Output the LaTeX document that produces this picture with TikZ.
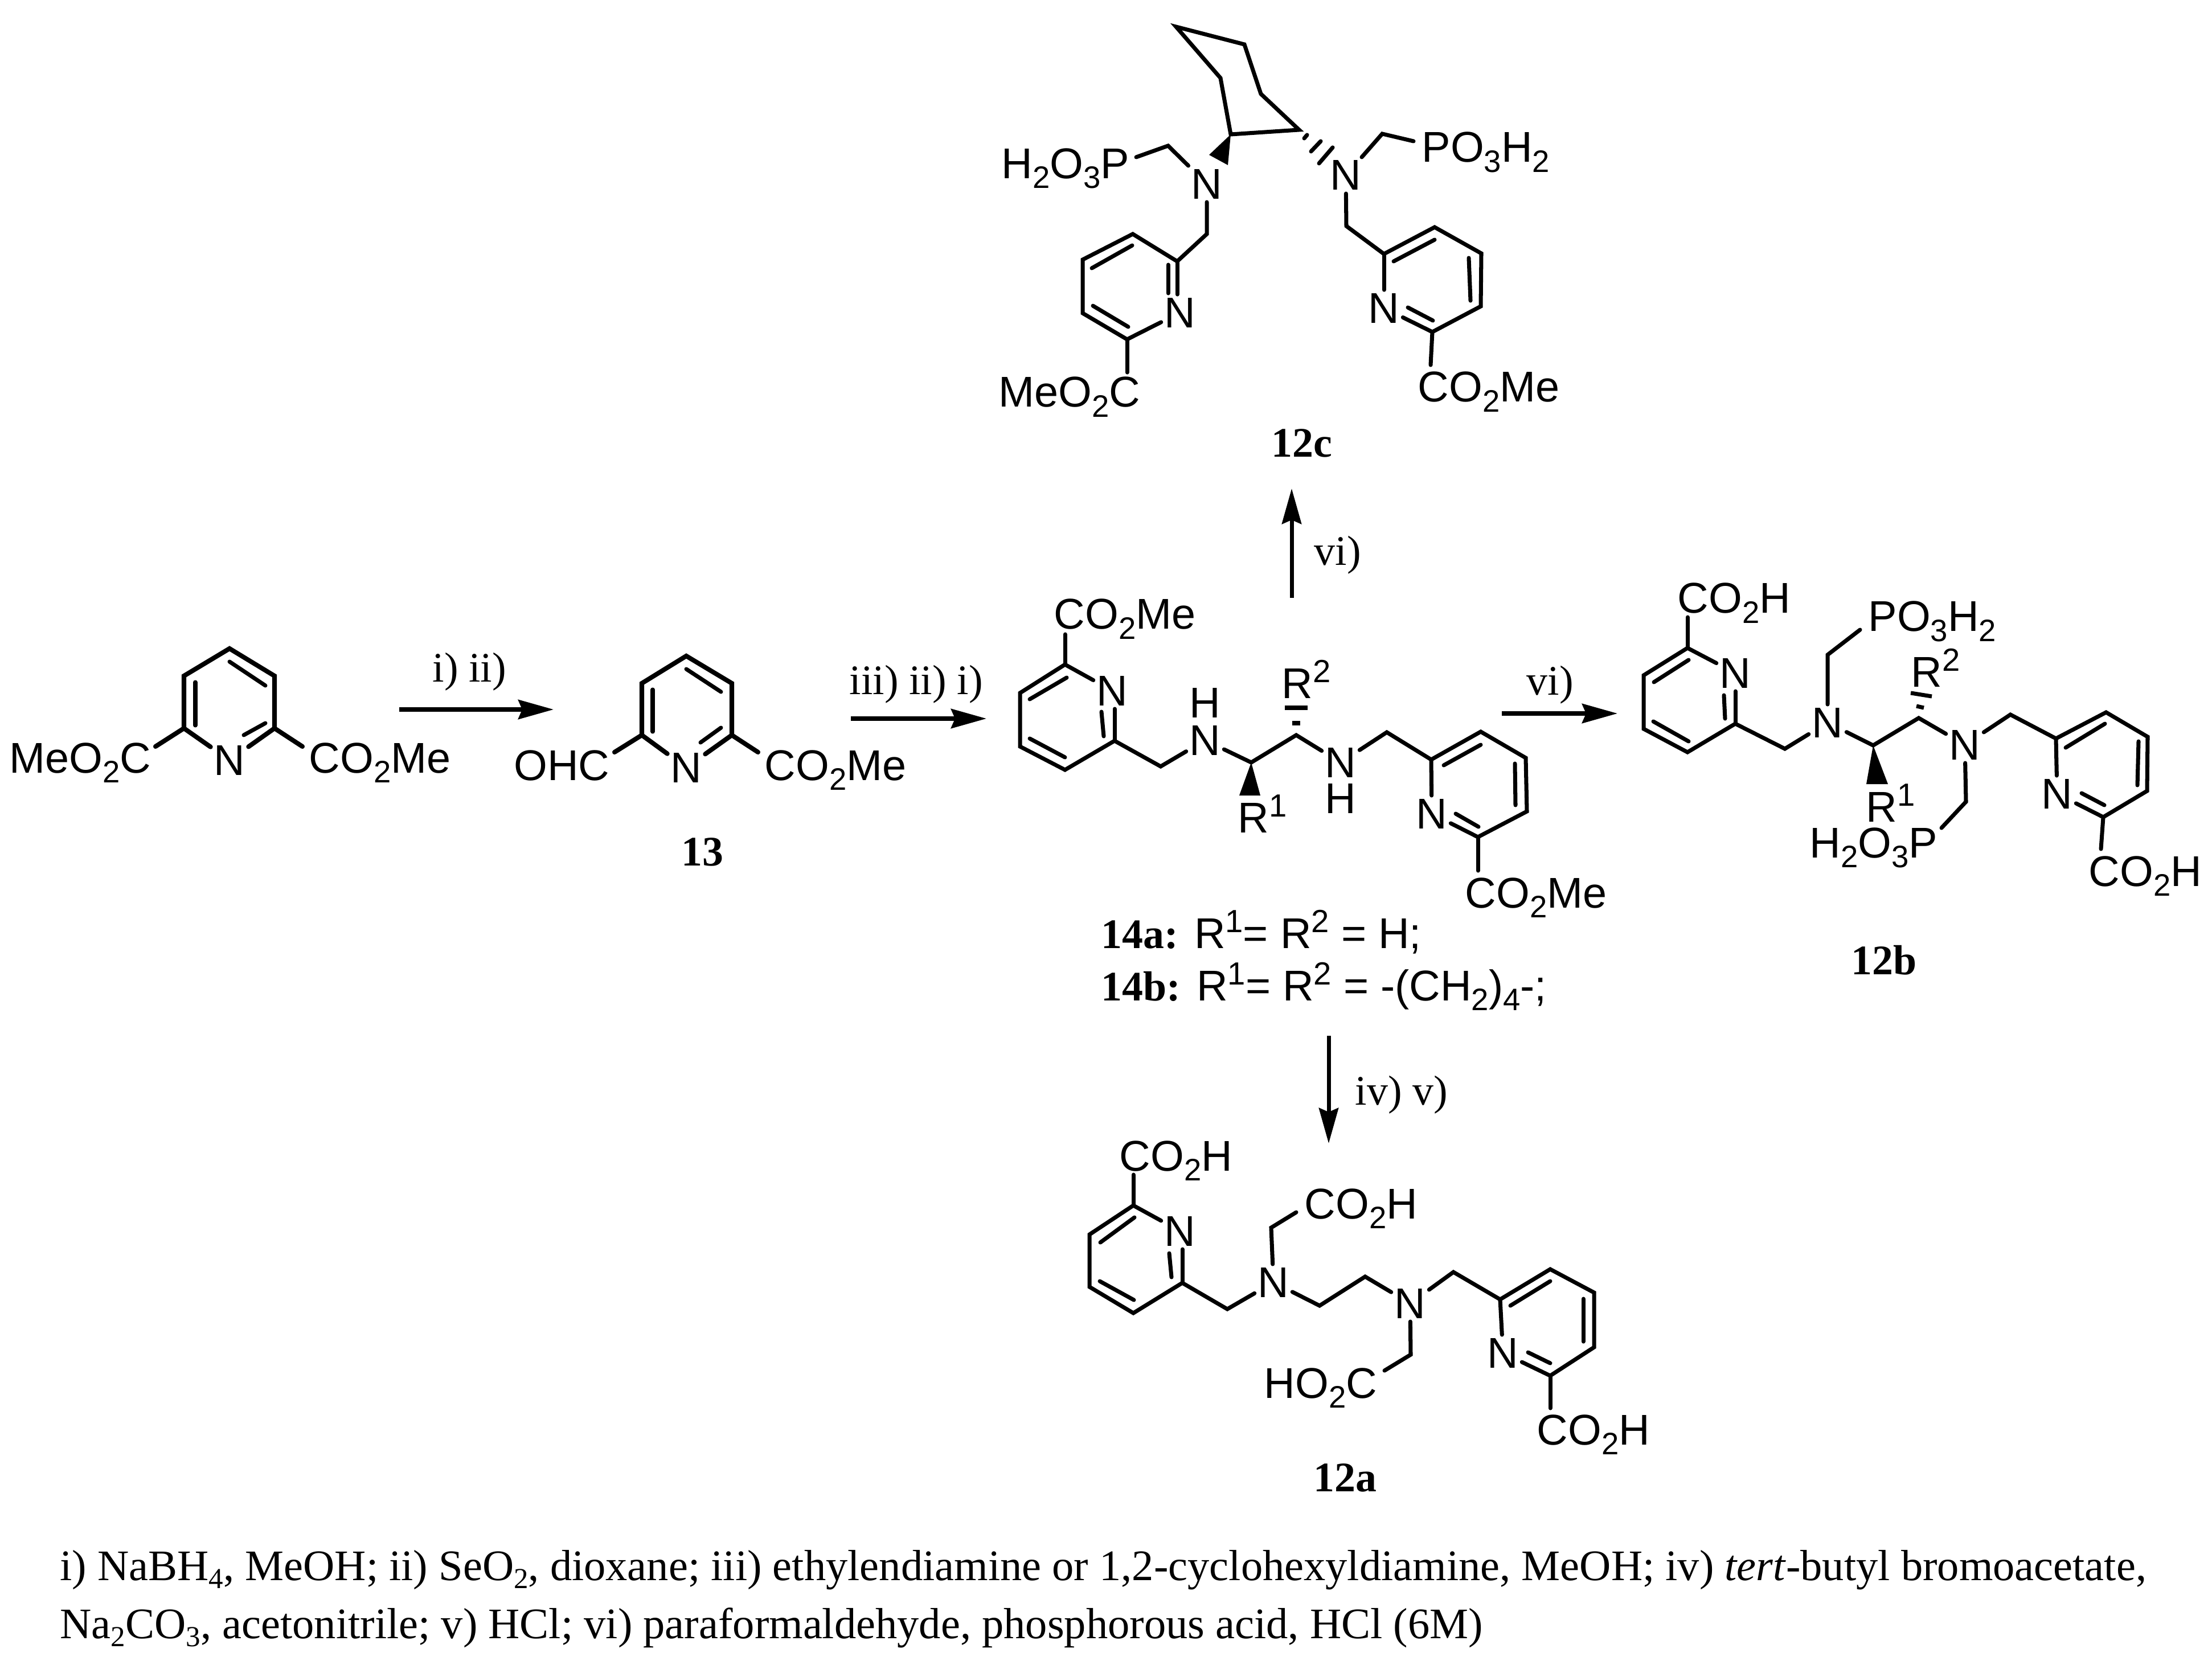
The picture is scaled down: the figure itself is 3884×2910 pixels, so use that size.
\documentclass[tikz,border=0pt]{standalone}
\usepackage{fontspec}
\setmainfont{Liberation Serif}
\newfontfamily\arialfont{Liberation Sans}
\usetikzlibrary{arrows.meta}
\newcommand{\chemfont}{\fontsize{21.5}{24}\arialfont}
\newcommand{\cpdfont}{\fontsize{21}{24}\rmfamily\bfseries}
\newcommand{\condfont}{\fontsize{21}{24}\rmfamily}
\newcommand{\notefont}{\fontsize{21.75}{24}\rmfamily}
\newcommand{\subs}[1]{\raisebox{-.17cm}{\fontsize{15.5}{15}\selectfont #1}}
\newcommand{\sups}[1]{\raisebox{.27cm}{\fontsize{16}{15}\selectfont #1}}
\newcommand{\capsub}[1]{\raisebox{-.14cm}{\fontsize{14.5}{15}\selectfont #1}}
\tikzset{
    bond/.style = {line width=2pt, line cap=round, line join=miter},
    thick bond/.style = {bond, line width=2.3pt},
    rxn/.style = {line width=2pt, -{Stealth[length=.62cm,width=.34cm,inset=.07cm]}},
    atom/.style = {inner sep=1.5pt, font=\chemfont},
    grp/.style = {inner sep=0pt, font=\chemfont},
    cpd/.style = {inner sep=0pt, font=\cpdfont, anchor=base},
    cond/.style = {inner sep=0pt, font=\condfont, anchor=base west},
    note/.style = {inner sep=0pt, font=\notefont, anchor=base west}
}

\begin{document}
\begin{tikzpicture}[x=0.01cm,y=-0.01cm]
\useasboundingbox (0,0) rectangle (3884,2910);

% 12c
\draw[bond] (2065,47) coordinate (c1) -- (2185,78) coordinate (c2) -- (2214,165) coordinate (c3) -- (2281,228) coordinate (c4) -- (2161,236) coordinate (c5) -- (2143,137) coordinate (c6) -- cycle;
\fill (c5) -- (2123,272) -- (2156,290) -- cycle;
\draw[bond] (2290,243) -- (2295,237);
\draw[bond] (2302,266) -- (2319,248);
\draw[bond] (2316,287) -- (2340,259);
\node[atom] (cNl) at (2119,323) {N};
\node[atom] (cNr) at (2363,308) {N};
\node[atom] (cNa) at (2072,549) {N};
\node[atom] (cNb) at (2430,541) {N};
\node[grp, anchor=base east] (cPl) at (1984,314) {H\subs{2}O\subs{3}P};
\node[grp, anchor=base west] (cPr) at (2496,285) {PO\subs{3}H\subs{2}};
\node[grp, anchor=base east] (cEl) at (2003,715) {MeO\subs{2}C};
\node[grp, anchor=base west] (cEr) at (2489,706) {CO\subs{2}Me};
\node[cpd] (lab12c) at (2286,803) {12c};
\coordinate (cPle) at (1995,276);
\coordinate (cPre) at (2482,248);
\draw[bond] (cPle) -- (2051,256) coordinate (cm1) -- (cNl);
\draw[bond] (cNl) -- (2119,411) coordinate (cm2) -- (2067,459) coordinate (a1) -- (1989,411) coordinate (a2) -- (1901,456) coordinate (a3) -- (1901,550) coordinate (a4) -- (1979,596) coordinate (a5) -- (cNa);
\draw[bond] (a1) -- (a1 |- cNa.north);
\draw[bond] (2051,465) -- (2051,515);
\draw[bond] (1988,431) -- (1917,471);
\draw[bond] (1919,537) -- (1981,574);
\coordinate (cEle) at (1979,654);
\draw[bond] (a5) -- (cEle);
\draw[bond] (cNr) -- (2427,235) coordinate (cm3) -- (cPre);
\draw[bond] (cNr) -- (2364,397) coordinate (cm4) -- (2430,446) coordinate (b1) -- (2519,399) coordinate (b2) -- (2601,445) coordinate (b3) -- (2600,538) coordinate (b4) -- (2515,583) coordinate (b5) -- (cNb);
\draw[bond] (b1) -- (b1 |- cNb.north);
\draw[bond] (2447,459) -- (2519,421);
\draw[bond] (2579,453) -- (2582,528);
\draw[bond] (2472,540) -- (2516,563);
\coordinate (cEre) at (2512,641);
\draw[bond] (b5) -- (cEre);

% dimethyl ester
\node[atom] (sN) at (403,1335) {N};
\node[grp, anchor=base east] (sEl) at (266,1357) {MeO\subs{2}C};
\node[grp, anchor=base west] (sEr) at (542,1357) {CO\subs{2}Me};
\draw[thick bond] (sN) -- (323,1279) coordinate (s1) -- (323,1187) coordinate (s2) -- (403,1139) coordinate (s3) -- (482,1187) coordinate (s4) -- (482,1279) coordinate (s5) -- (sN);
\draw[bond] (403,1162) -- (466,1204);
\draw[bond] (466,1270) -- (428,1291);
\draw[bond] (343,1198) -- (343,1274);
\coordinate (sEle) at (273,1311);
\coordinate (sEre) at (531,1311);
\draw[thick bond] (s1) -- (sEle);
\draw[thick bond] (s5) -- (sEre);

% 13
\node[atom] (aN) at (1205,1348) {N};
\node[grp, anchor=base east] (aCHO) at (1071,1370) {OHC};
\node[grp, anchor=base west] (aEr) at (1342,1370) {CO\subs{2}Me};
\node[cpd] (lab13) at (1233,1520) {13};
\draw[thick bond] (aN) -- (1127,1291) coordinate (d1) -- (1127,1200) coordinate (d2) -- (1205,1152) coordinate (d3) -- (1285,1200) coordinate (d4) -- (1285,1291) coordinate (d5) -- (aN);
\draw[bond] (1205,1175) -- (1266,1215);
\draw[bond] (1266,1278) -- (1230,1304);
\draw[bond] (1146,1211) -- (1146,1285);
\coordinate (aCHOe) at (1079,1321);
\coordinate (aEre) at (1331,1321);
\draw[thick bond] (d1) -- (aCHOe);
\draw[thick bond] (d5) -- (aEre);

% 14
\node[atom] (eNa) at (1953,1213) {N};
\node[atom] (eNl) at (2116,1300) {N};
\node[atom] (eHl) at (2116,1234) {H};
\node[atom] (eNr) at (2354,1339) {N};
\node[atom] (eHr) at (2354,1402) {H};
\node[atom] (eNb) at (2514,1429) {N};
\node[grp, anchor=base west] (eEt) at (1850,1105) {CO\subs{2}Me};
\node[grp, anchor=base west] (eEb) at (2572,1594) {CO\subs{2}Me};
\node[grp, anchor=base west] (eRa) at (2173,1462) {R\sups{1}};
\node[grp, anchor=base west] (eRb) at (2250,1226) {R\sups{2}};
\node[grp, anchor=base west] (lab14a) at (1933,1665) {{\cpdfont 14a:} R\sups{1}= R\sups{2} = H;};
\node[grp, anchor=base west] (lab14b) at (1933,1757) {{\cpdfont 14b:} R\sups{1}= R\sups{2} = -(CH\subs{2})\subs{4}-;};
\coordinate (eEte) at (1870,1114);
\coordinate (eEbe) at (2595,1529);
\draw[bond] (eEte) -- (1870,1167) coordinate (p1);
\draw[bond] (eNa) -- (p1) -- (1791,1217) coordinate (p2) -- (1791,1311) coordinate (p3) -- (1870,1352) coordinate (p4) -- (1957,1301) coordinate (p5) -- (2038,1346) coordinate (em1) -- (eNl);
\draw[bond] (p5) -- (p5 |- eNa.south);
\draw[bond] (1873,1190) -- (1808,1228);
\draw[bond] (1808,1297) -- (1870,1330);
\draw[bond] (1938,1293) -- (1934,1250);
\draw[bond] (eNl) -- (2197,1339) coordinate (e1) -- (2276,1291) coordinate (e2) -- (eNr);
\fill (e1) -- (2176,1397) -- (2213,1397) -- cycle;
\draw[bond, line cap=butt] (2269,1270) -- (2283,1270);
\draw[bond, line cap=butt] (2256,1243) -- (2296,1243);
\draw[bond] (eNr) -- (2435,1286) coordinate (em2) -- (2513,1334) coordinate (q1) -- (2600,1285) coordinate (q2) -- (2679,1331) coordinate (q3) -- (2681,1425) coordinate (q4) -- (2595,1470) coordinate (q5) -- (eNb);
\draw[bond] (q1) -- (eNb);
\draw[bond] (2535,1344) -- (2600,1308);
\draw[bond] (2660,1341) -- (2661,1414);
\draw[bond] (2556,1429) -- (2596,1452);
\draw[bond] (q5) -- (eEbe);

% 12b
\node[atom] (fNa) at (3047,1182) {N};
\node[atom] (fNl) at (3209,1269) {N};
\node[atom] (fNr) at (3450,1308) {N};
\node[atom] (fNb) at (3612,1394) {N};
\node[grp, anchor=base west] (fEt) at (2945,1077) {CO\subs{2}H};
\node[grp, anchor=base west] (fEb) at (3667,1556) {CO\subs{2}H};
\node[grp, anchor=base west] (fPt) at (3280,1109) {PO\subs{3}H\subs{2}};
\node[grp, anchor=base east] (fPb) at (3403,1506) {H\subs{2}O\subs{3}P};
\node[grp, anchor=base west] (fRa) at (3276,1443) {R\sups{1}};
\node[grp, anchor=base west] (fRb) at (3355,1206) {R\sups{2}};
\node[cpd] (lab12b) at (3308,1711) {12b};
\coordinate (fEte) at (2963,1084);
\coordinate (fEbe) at (3689,1491);
\coordinate (fPte) at (3266,1106);
\coordinate (fPbe) at (3409,1454);
\draw[bond] (fEte) -- (2963,1138) coordinate (r1);
\draw[bond] (fNa) -- (r1) -- (2886,1186) coordinate (r2) -- (2886,1280) coordinate (r3) -- (2963,1321) coordinate (r4) -- (3047,1271) coordinate (r5) -- (3134,1315) coordinate (fm1) -- (fNl);
\draw[bond] (r5) -- (r5 |- fNa.south);
\draw[bond] (2965,1159) -- (2904,1198);
\draw[bond] (2903,1267) -- (2965,1302);
\draw[bond] (3029,1262) -- (3027,1221);
\draw[bond] (fNl) -- (3209,1150) coordinate (fm2) -- (fPte);
\draw[bond] (fNl) -- (3289,1309) coordinate (f1) -- (3369,1261) coordinate (f2) -- (fNr);
\fill (f1) -- (3277,1377) -- (3315,1377) -- cycle;
\draw[bond, line cap=butt] (3365,1240) -- (3378,1243);
\draw[bond, line cap=butt] (3355,1217) -- (3392,1223);
\draw[bond] (fNr) -- (3530,1255) coordinate (fm3) -- (3610,1297) coordinate (s1b) -- (3698,1251) coordinate (s2b) -- (3771,1294) coordinate (s3b) -- (3770,1389) coordinate (s4b) -- (3693,1435) coordinate (s5b) -- (fNb);
\draw[bond] (s1b) -- (fNb);
\draw[bond] (3627,1313) -- (3696,1271);
\draw[bond] (3755,1302) -- (3753,1379);
\draw[bond] (3655,1393) -- (3695,1414);
\draw[bond] (s5b) -- (fEbe);
\draw[bond] (fNr) -- (3452,1408) coordinate (fm4) -- (fPbe);

% 12a
\node[atom] (gNa) at (2072,2162) {N};
\node[atom] (gNl) at (2236,2252) {N};
\node[atom] (gNr) at (2476,2289) {N};
\node[atom] (gNb) at (2639,2376) {N};
\node[grp, anchor=base west] (gEt) at (1965,2056) {CO\subs{2}H};
\node[grp, anchor=base west] (gEm) at (2290,2140) {CO\subs{2}H};
\node[grp, anchor=base east] (gEl) at (2419,2455) {HO\subs{2}C};
\node[grp, anchor=base west] (gEb) at (2698,2537) {CO\subs{2}H};
\node[cpd] (lab12a) at (2362,2619) {12a};
\coordinate (gEte) at (1990,2063);
\coordinate (gEme) at (2276,2129);
\coordinate (gEle) at (2431,2407);
\coordinate (gEbe) at (2722,2473);
\draw[bond] (gEte) -- (1990,2117) coordinate (t1);
\draw[bond] (gNa) -- (t1) -- (1913,2168) coordinate (t2) -- (1913,2260) coordinate (t3) -- (1990,2306) coordinate (t4) -- (2076,2253) coordinate (t5) -- (2155,2299) coordinate (gm1) -- (gNl);
\draw[bond] (t5) -- (t5 |- gNa.south);
\draw[bond] (1992,2138) -- (1932,2182);
\draw[bond] (1931,2250) -- (1991,2283);
\draw[bond] (2057,2243) -- (2053,2201);
\draw[bond] (gNl) -- (2232,2156) coordinate (gm2) -- (gEme);
\draw[bond] (gNl) -- (2317,2293) coordinate (g1) -- (2397,2242) coordinate (g2) -- (gNr);
\draw[bond] (gNr) -- (2552,2234) coordinate (gm3) -- (2634,2282) coordinate (u1) -- (2722,2229) coordinate (u2) -- (2799,2270) coordinate (u3) -- (2799,2366) coordinate (u4) -- (2722,2416) coordinate (u5) -- (gNb);
\draw[bond] (u1) -- (gNb);
\draw[bond] (2652,2293) -- (2722,2250);
\draw[bond] (2780,2281) -- (2780,2356);
\draw[bond] (2683,2375) -- (2722,2394);
\draw[bond] (u5) -- (gEbe);
\draw[bond] (gNr) -- (2477,2379) coordinate (gm4) -- (gEle);

% arrows
\coordinate (ar1s) at (701,1246);
\coordinate (ar1e) at (972,1246);
\coordinate (ar2s) at (1494,1262);
\coordinate (ar2e) at (1732,1262);
\coordinate (ar3s) at (2637,1253);
\coordinate (ar3e) at (2840,1253);
\coordinate (ar4s) at (2268,1050);
\coordinate (ar4e) at (2268,858);
\coordinate (ar5s) at (2333,1819);
\coordinate (ar5e) at (2333,2008);
\draw[rxn] (ar1s) -- (ar1e);
\draw[rxn] (ar2s) -- (ar2e);
\draw[rxn] (ar3s) -- (ar3e);
\draw[rxn] (ar4s) -- (ar4e);
\draw[rxn] (ar5s) -- (ar5e);
\node[cond] (cd1) at (759,1197) {i) ii)};
\node[cond] (cd2) at (1491,1219) {iii) ii) i)};
\node[cond] (cd3) at (2680,1220) {vi)};
\node[cond] (cd4) at (2307,993) {vi)};
\node[cond] (cd5) at (2379,1940) {iv) v)};

% conditions
\node[note] (note1) at (105,2775) {i) NaBH\capsub{4}, MeOH; ii) SeO\capsub{2}, dioxane; iii) ethylendiamine or 1,2-cyclohexyldiamine, MeOH; iv) \textit{tert}-butyl bromoacetate,};
\node[note] (note2) at (105,2877) {Na\capsub{2}CO\capsub{3}, acetonitrile; v) HCl; vi) paraformaldehyde, phosphorous acid, HCl (6M)};
\end{tikzpicture}
\end{document}
